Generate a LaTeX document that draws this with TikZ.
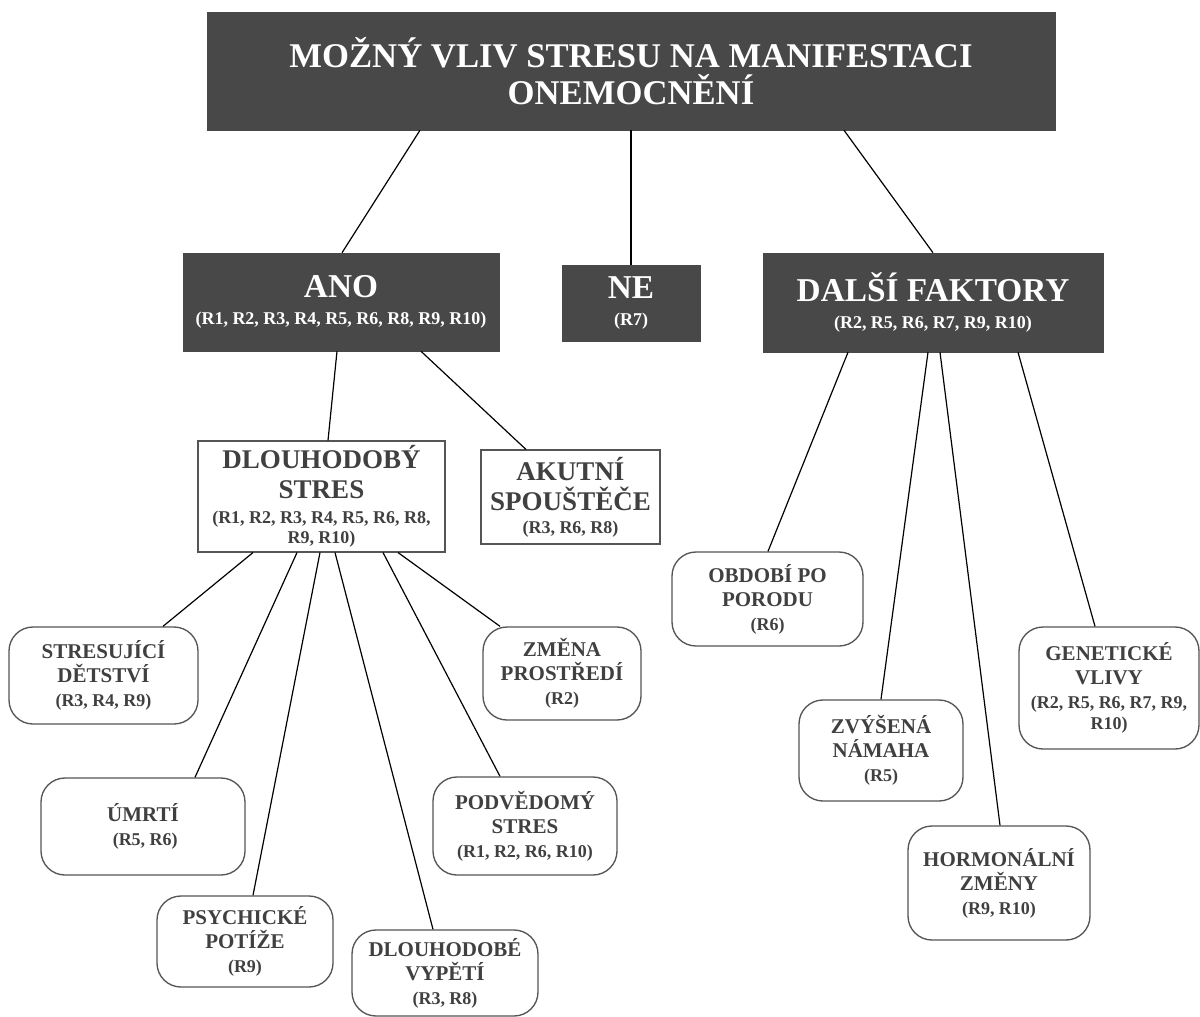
\documentclass[tikz,border=0pt]{standalone}
\usepackage{fontspec}
\setmainfont{Liberation Serif}
\usetikzlibrary{calc}
\definecolor{boxdark}{HTML}{484848}
\definecolor{txtgray}{HTML}{404040}
\definecolor{edgegray}{HTML}{555555}
\newcommand\fTitle{\fontsize{26pt}{27.75pt}\selectfont\bfseries}
\newcommand\fBig{\fontsize{25pt}{20pt}\selectfont\bfseries}
\newcommand\fMid{\fontsize{20.25pt}{22.5pt}\selectfont\bfseries}
\newcommand\fItem{\fontsize{15.75pt}{18pt}\selectfont\bfseries}
\newcommand\fRef{\fontsize{13.5pt}{16pt}\selectfont\bfseries}
\tikzset{
  darkrect/.style={fill=boxdark, draw=boxdark, text=white, inner sep=0pt, align=center},
  plainrect/.style={fill=white, draw=edgegray, line width=0.8pt, text=txtgray, inner sep=0pt, align=center, font=\fMid},
  roundbox/.style={fill=white, draw=edgegray, line width=1pt, rounded corners=18pt, text=txtgray, inner sep=0pt, align=center, font=\fItem},
  link/.style={draw=black, line width=0.9pt},
}
\begin{document}
\begin{tikzpicture}[x=0.75pt, y=-0.75pt]
\useasboundingbox (0,0) rectangle (1200,1017);
\fill[white] (0,0) rectangle (1200,1017);

% top level
\node[darkrect, font=\fTitle, minimum width=636pt, minimum height=88.5pt] (title) at (631,71)
  {MOŽNÝ VLIV STRESU NA MANIFESTACI\\ONEMOCNĚNÍ};

% second level
\node[darkrect, font=\fBig, minimum width=237pt, minimum height=73.5pt] (ano) at (341,302)
  {ANO\\{\fRef (R1, R2, R3, R4, R5, R6, R8, R9, R10)}};
\node[darkrect, font=\fBig, minimum width=103.5pt, minimum height=57pt] (ne) at (631,303)
  {NE\\{\fRef (R7)}};
\node[darkrect, font=\fBig, minimum width=255pt, minimum height=74.25pt] (dalsi) at (933,302.5)
  {DALŠÍ FAKTORY\\{\fRef (R2, R5, R6, R7, R9, R10)}};

% third level
\node[plainrect, minimum width=185.25pt, minimum height=83.25pt] (dlouh) at (321.5,496.5)
  {DLOUHODOBÝ\\STRES\\[-3.75pt]{\fRef (R1, R2, R3, R4, R5, R6, R8,}\\[-7.5pt]{\fRef R9, R10)}};
\node[plainrect, minimum width=134.25pt, minimum height=70.5pt] (akut) at (570.5,497)
  {AKUTNÍ\\SPOUŠTĚČE\\[-5pt]{\fRef (R3, R6, R8)}};

% leaves under DLOUHODOBÝ STRES
\node[roundbox, minimum width=141.75pt, minimum height=72.75pt] (stres) at (103.5,675.5)
  {STRESUJÍCÍ\\DĚTSTVÍ\\{\fRef (R3, R4, R9)}};
\node[roundbox, minimum width=153pt, minimum height=72.75pt] (umrti) at (143,826.5)
  {ÚMRTÍ\\{\fRef ~(R5, R6)}};
\node[roundbox, minimum width=132pt, minimum height=68.25pt] (psych) at (245,941.5)
  {PSYCHICKÉ\\POTÍŽE\\{\fRef (R9)}};
\node[roundbox, minimum width=139.5pt, minimum height=64.5pt] (vypeti) at (445,973)
  {DLOUHODOBÉ\\VYPĚTÍ\\{\fRef (R3, R8)}};
\node[roundbox, minimum width=138pt, minimum height=73.5pt] (podv) at (525,826)
  {PODVĚDOMÝ\\STRES\\{\fRef (R1, R2, R6, R10)}};
\node[roundbox, minimum width=118.5pt, minimum height=69.75pt] (zmena) at (562,673.5)
  {ZMĚNA\\PROSTŘEDÍ\\{\fRef (R2)}};

% leaves under DALŠÍ FAKTORY
\node[roundbox, minimum width=143.25pt, minimum height=70.5pt] (obdobi) at (767.5,599)
  {OBDOBÍ PO\\PORODU\\{\fRef (R6)}};
\node[roundbox, minimum width=123pt, minimum height=75.75pt] (zvys) at (881,750.5)
  {ZVÝŠENÁ\\NÁMAHA\\{\fRef (R5)}};
\node[roundbox, minimum width=136.5pt, minimum height=85.5pt] (horm) at (999,883)
  {HORMONÁLNÍ\\ZMĚNY\\{\fRef (R9, R10)}};
\node[roundbox, minimum width=135pt, minimum height=91.5pt] (gen) at (1109,688)
  {GENETICKÉ\\VLIVY\\{\fRef (R2, R5, R6, R7, R9,}\\[-2pt]{\fRef R10)}};

% connectors
\draw[link] ($(title.south)+(-211,0)$) -- ($(ano.north)+(1,0)$);
\draw[link] (ne.north |- title.south) -- (ne.north);
\draw[link] ($(title.south)+(213,0)$) -- (dalsi.north);

\draw[link] ($(ano.south)+(-4,0)$) -- ($(dlouh.north)+(6.5,0)$);
\draw[link] ($(ano.south)+(80,0)$) -- ($(akut.north)+(-44.5,0)$);

\draw[link] ($(dalsi.south)+(-85,0)$) -- ($(obdobi.north)+(0.5,0)$);
\draw[link] ($(dalsi.south)+(-5,0)$) -- (zvys.north);
\draw[link] ($(dalsi.south)+(7,0)$) -- ($(horm.north)+(1,0)$);
\draw[link] ($(dalsi.south)+(85,0)$) -- ($(gen.north)+(-14,0)$);

\draw[link] ($(dlouh.south)+(-68.5,0)$) -- ($(stres.north)+(59.5,0)$);
\draw[link] ($(dlouh.south)+(-24.5,0)$) -- ($(umrti.north)+(52,0)$);
\draw[link] ($(dlouh.south)+(-1.5,0)$) -- ($(psych.north)+(8,0)$);
\draw[link] ($(dlouh.south)+(13.5,0)$) -- ($(vypeti.north)+(-12,0)$);
\draw[link] ($(dlouh.south)+(61.5,0)$) -- ($(podv.north)+(-25,0)$);
\draw[link] ($(dlouh.south)+(76.5,0)$) -- ($(zmena.north)+(-62,0)$);
\end{tikzpicture}
\end{document}
